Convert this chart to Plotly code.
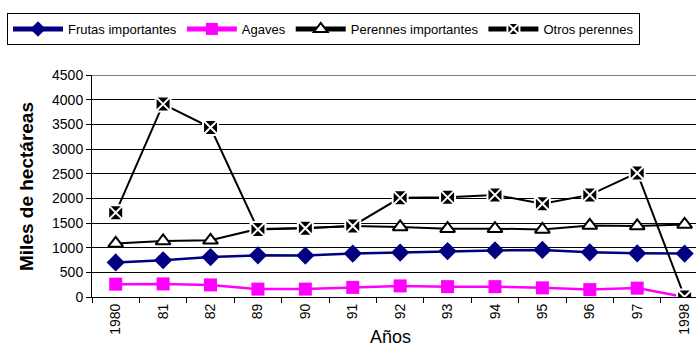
import plotly.graph_objects as go

years = ["1980", "81", "82", "89", "90", "91", "92", "93", "94", "95", "96", "97", "1998"]
frutas = [700, 745, 810, 845, 840, 880, 900, 930, 945, 955, 905, 885, 880]
agaves = [260, 265, 245, 160, 160, 195, 225, 210, 210, 185, 150, 180, 0]
perennes = [1085, 1135, 1150, 1380, 1400, 1440, 1420, 1385, 1385, 1370, 1450, 1440, 1470]
otros = [1710, 3910, 3435, 1370, 1395, 1440, 2010, 2020, 2070, 1890, 2070, 2515, 0]

W, H = 696, 349
L, T, B = 92, 75, 52
PW, PH = W - L, H - T - B
font = "Liberation Sans, Arial, sans-serif"

fig = go.Figure()
fig.add_trace(go.Scatter(x=years, y=frutas, name="Frutas importantes", mode="lines+markers",
                         line=dict(color="#000080", width=2.5),
                         marker=dict(symbol="diamond", size=14, color="#000080")))
fig.add_trace(go.Scatter(x=years, y=agaves, name="Agaves", mode="lines+markers",
                         line=dict(color="#FF00FF", width=2.5),
                         marker=dict(symbol="square", size=13, color="#FF00FF")))
fig.add_trace(go.Scatter(x=years, y=perennes, name="Perennes importantes", mode="lines+markers",
                         line=dict(color="black", width=2),
                         marker=dict(symbol="triangle-up", size=13, color="white",
                                     line=dict(color="black", width=2))))
fig.add_trace(go.Scatter(x=years, y=otros, name="Otros perennes", mode="lines+markers",
                         line=dict(color="black", width=2),
                         marker=dict(symbol="square-x", size=15, color="black",
                                     line=dict(color="white", width=2))))

fig.update_layout(
    width=W, height=H,
    margin=dict(l=L, r=0, t=T, b=B),
    paper_bgcolor="white", plot_bgcolor="white",
    font=dict(family=font, size=14, color="black"),
    showlegend=True,
    legend=dict(orientation="h", xref="paper", yref="paper",
                x=(7 - L) / PW, y=1 + (T - 13) / PH, xanchor="left", yanchor="top",
                bordercolor="black", borderwidth=1, bgcolor="white",
                font=dict(size=13), itemwidth=50, itemsizing="constant", tracegroupgap=0),
    xaxis=dict(type="category", categoryorder="array", categoryarray=years,
               range=[-0.5, 12.24], showline=True, linecolor="black", linewidth=1,
               ticks="outside", tickson="boundaries", ticklen=5, tickcolor="black",
               tickangle=-90, showgrid=False, tickfont=dict(size=14), fixedrange=True),
    yaxis=dict(range=[0, 4500], dtick=500, showline=True, linecolor="black", linewidth=1,
               ticks="outside", ticklen=5, tickcolor="black", showgrid=True,
               gridcolor="black", gridwidth=1, zeroline=False, tickfont=dict(size=14)),
    shapes=[dict(type="line", xref="paper", yref="y", x0=0, x1=1, y0=4500, y1=4500,
                 line=dict(color="#808080", width=2))],
    annotations=[
        dict(text="<b>Miles de hectáreas</b>", textangle=-90, xref="paper", yref="paper",
             x=(26 - L) / PW, y=(297 - 187) / PH, xanchor="center", yanchor="middle",
             showarrow=False, font=dict(size=19)),
        dict(text="Años", xref="paper", yref="paper",
             x=(390 - L) / PW, y=-(337 - 297) / PH, xanchor="center", yanchor="middle",
             showarrow=False, font=dict(size=18)),
    ],
)

fig.write_html("out.html")
